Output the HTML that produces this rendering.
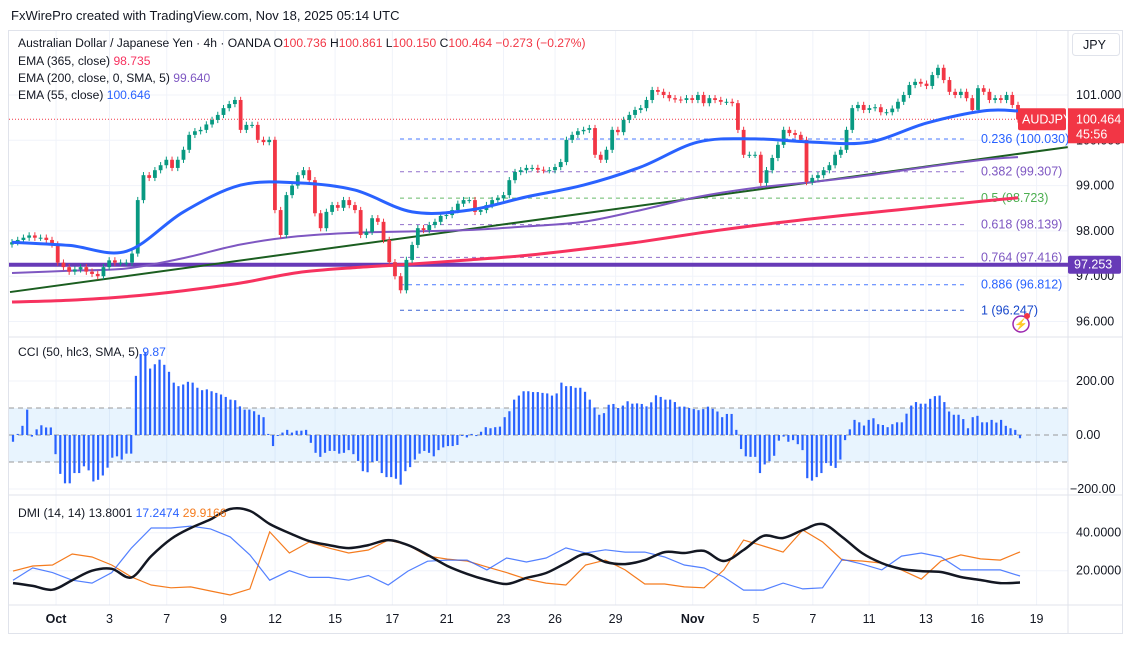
<!DOCTYPE html>
<html><head><meta charset="utf-8"><style>
body{margin:0;background:#fff;}
svg{display:block;font-family:"Liberation Sans",sans-serif;}
</style></head><body>
<svg id="c" width="1124" height="645" viewBox="0 0 1124 645">
<rect x="0" y="0" width="1124" height="645" fill="#fff"/>
<text x="11" y="20" font-size="13" fill="#131722">FxWirePro created with TradingView.com, Nov 18, 2025 05:14 UTC</text>
<rect x="8.5" y="30.5" width="1114" height="603" fill="none" stroke="#e0e3eb"/>
<g id="grid"></g>
<g id="main"></g>
<g id="cci"></g>
<g id="dmi"></g>
<g id="axes"></g>
<g font-size="12.1">
<text x="18" y="47" fill="#131722">Australian Dollar / Japanese Yen · 4h · OANDA <tspan fill="#131722">O</tspan><tspan fill="#f23645">100.736</tspan> <tspan fill="#131722">H</tspan><tspan fill="#f23645">100.861</tspan> <tspan fill="#131722">L</tspan><tspan fill="#f23645">100.150</tspan> <tspan fill="#131722">C</tspan><tspan fill="#f23645">100.464 −0.273 (−0.27%)</tspan></text>
<text x="18" y="65" fill="#131722">EMA (365, close) <tspan fill="#f7325f">98.735</tspan></text>
<text x="18" y="82" fill="#131722">EMA (200, close, 0, SMA, 5) <tspan fill="#7e57c2">99.640</tspan></text>
<text x="18" y="99" fill="#131722">EMA (55, close) <tspan fill="#2962ff">100.646</tspan></text>
</g>
<text x="18" y="356" font-size="12.1" fill="#131722">CCI (50, hlc3, SMA, 5) <tspan fill="#2962ff">9.87</tspan></text>
<text x="18" y="517" font-size="12.1" fill="#131722">DMI (14, 14) <tspan fill="#131722">13.8001</tspan> <tspan fill="#2962ff">17.2474</tspan> <tspan fill="#f57c1f">29.9166</tspan></text>
<g><rect x="1072.5" y="33.5" width="47" height="22" rx="3" fill="#fff" stroke="#e0e3eb"/><text x="1083" y="49" font-size="12.5" fill="#131722">JPY</text></g>
</svg>
<script>
const NS='http://www.w3.org/2000/svg';
function mk(tag,attrs,parent,txt){const e=document.createElementNS(NS,tag);for(const k in attrs)e.setAttribute(k,attrs[k]);if(txt!==undefined)e.textContent=txt;parent.appendChild(e);return e;}
const G=id=>document.getElementById(id);

// ---------- data ----------
const closes=[97.75,97.8,97.85,97.9,97.85,97.85,97.8,97.7,97.3,97.2,
97.1,97.15,97.2,97.1,97.05,97.0,97.2,97.35,97.3,97.3,
97.3,97.5,98.68,99.23,99.17,99.34,99.45,99.57,99.39,99.57,
99.79,100.12,100.2,100.23,100.35,100.45,100.56,100.71,100.8,100.89,
100.23,100.34,100.34,100.01,99.96,100.01,98.46,97.91,98.79,99.0,
99.23,99.34,99.12,98.39,98.06,98.42,98.57,98.51,98.68,98.57,
98.46,97.91,97.98,98.28,98.20,97.80,97.31,97.0,96.69,97.36,
97.69,98.06,98.02,98.13,98.20,98.33,98.35,98.46,98.6,98.68,
98.68,98.42,98.46,98.57,98.68,98.72,98.79,99.12,99.30,99.34,
99.39,99.39,99.35,99.34,99.34,99.41,99.52,100.01,100.12,100.2,
100.23,100.27,99.68,99.57,99.79,100.23,100.18,100.45,100.56,100.67,
100.71,100.89,101.11,101.07,101.00,100.93,100.9,100.89,100.93,100.89,
101.00,100.82,100.93,100.89,100.85,100.85,100.82,100.23,99.68,99.68,
99.68,99.06,99.34,99.61,99.90,100.23,100.16,100.12,100.01,99.08,
99.17,99.23,99.34,99.45,99.68,99.79,100.23,100.71,100.78,100.67,
100.71,100.73,100.62,100.62,100.7,100.85,101.00,101.22,101.29,101.25,
101.20,101.44,101.60,101.33,101.07,101.0,101.07,100.93,100.67,101.15,
101.07,100.89,100.93,100.89,101.00,100.78,100.46];
const emaBars=[0,10,20,30,40,50,60,70,80,90,100,110,120,130,140,150,160,170,176];
const ema55=[97.75,97.68,97.55,98.42,99.01,99.06,98.90,98.42,98.46,98.75,99.01,99.41,99.96,100.03,99.96,99.96,100.38,100.65,100.65];
const ema200=[97.07,97.12,97.17,97.40,97.70,97.88,97.96,97.99,98.02,98.10,98.20,98.46,98.75,98.95,99.08,99.23,99.41,99.57,99.63];
const ema365=[96.43,96.47,96.55,96.68,96.85,97.08,97.19,97.27,97.36,97.46,97.60,97.76,97.95,98.12,98.27,98.40,98.53,98.66,98.73];
const trendBars=[-0.35,184.7];
const trendVals=[96.65,99.85];
const hLevel=97.253;
const fibRatios=['0.236','0.382','0.5','0.618','0.764','0.886','1'];
const fibPrices=[100.030,99.307,98.723,98.139,97.416,96.812,96.247];
const fibColors=['#2962ff','#7e57c2','#4caf50','#7e57c2','#7e57c2','#2962ff','#1848cc'];
const lastClose=100.464;
const priceTicks=[101,100,99,98,97,96];
const cciVals=[-25,4,34,94,-6,21,36,28,28,-71,-144,-179,-179,-141,-141,-116,-131,-172,-166,-150,-121,-84,-79,-91,-69,-69,
219,300,306,246,262,279,260,234,194,181,187,197,194,175,166,169,162,156,150,141,131,129,106,94,94,88,75,66,4,-41,0,9,19,9,16,16,19,
-29,-66,-81,-66,-59,-59,-69,-66,-56,-71,-96,-134,-138,-100,-96,-141,-156,-156,-162,-184,-134,-119,-91,-69,-59,-66,-79,-56,-46,-41,-41,-37,
0,-9,4,-4,12,29,25,29,31,66,88,131,146,162,162,159,159,
156,154,146,154,194,181,181,175,175,160,131,102,75,81,112,115,100,109,125,116,117,115,106,121,147,141,131,131,122,105,105,100,96,92,96,105,97,87,66,78,78,19,
-52,-79,-81,-81,-141,-109,-97,-77,-21,-6,-25,-19,-34,-56,-160,-169,-156,-141,-104,-114,-122,-91,-19,
21,56,47,35,56,62,40,37,29,40,47,47,79,109,122,116,116,134,144,146,122,87,75,75,59,25,66,71,47,47,56,46,56,34,25,19,-12];
const cciTicks=[200,0,-200];
const adx=[13.5,12,10,15,20,21,16.5,27.7,36.7,42.5,47,52.5,51.5,44.6,39.8,35.6,33.5,31.9,33.5,36.1,33.5,28.3,22.5,18.3,15.1,13,16.2,18.8,24,28.8,24.6,23.5,25.6,29.8,29.3,30.4,25.1,30.9,38.3,37.2,41.4,44.6,37.7,29.3,24,20.9,19.8,19.3,16.7,15.1,13.5,13.8];
const diPlus=[15,21.5,19,15,13.5,19,32,42.5,42.5,43.5,42,37.8,28.3,15,20,16.5,16.5,15,17.5,12.5,19.8,25,25.6,25.6,20.4,26.7,24.6,26.7,32,29.3,31,29.8,29.8,27.2,23,21.4,16.7,9.8,9.8,13.5,10.4,11,26,23.5,20.4,27.7,29.3,27.2,20.4,20.4,20.4,17.2];
const diMinus=[19.8,22.5,23,28.8,27.2,23,16.7,12.5,11,11.5,9.3,7.2,10.4,40.4,29.3,35.1,31.9,29.3,30.9,36.1,33.5,27.7,26.1,25.1,22,19,15.6,13.5,12.5,23,25.6,20.4,13,13,11.5,11,20.4,36.1,33,29.8,41.4,35.2,25.6,25.1,24,20.4,15.6,25.1,28.3,26.2,25.6,29.9];
const dmiTicks=[40,20];
const timeLabels=['Oct','3','7','9','12','15','17','21','23','26','29','Nov','5','7','11','13','16','19'];
const timeBars=[9.1,20.4,32.5,44.5,55.4,68.1,80.2,91.7,103.7,114.6,127.4,143.7,157.1,169.1,181,193,203.9,216.4];

// ---------- scales ----------
const yP=p=>95+(101-p)*45.3;
const xB=i=>12+i*(1006/(closes.length-1));
const cciStep=(1020-13)/(cciVals.length-1);
const xC=i=>13+i*cciStep;
const yC=v=>435-v*0.27;
const dmiStep=(1020-13)/(adx.length-1);
const xD=i=>13+i*dmiStep;
const yD=v=>570.7-(v-20)*1.9;
const xT=b=>13+b*4.73;

// ---------- grid ----------
const grid=G('grid');
timeBars.forEach((b,i)=>{const l=mk('line',{x1:xT(b),x2:xT(b),y1:31,y2:605,stroke:'#f0f3fa'},grid);

});
priceTicks.forEach(p=>{const l=mk('line',{x1:9,x2:1068,y1:yP(p),y2:yP(p),stroke:'#f0f3fa'},grid);

});
[yC(200),yC(-200),yD(40),yD(20)].forEach(y=>{const l=mk('line',{x1:9,x2:1068,y1:y,y2:y,stroke:'#f0f3fa'},grid);

});
[337,495,605].forEach(y=>{const l=mk('line',{x1:9,x2:1123,y1:y,y2:y,stroke:'#e0e3eb'},grid);

});
const vs=mk('line',{x1:1068,x2:1068,y1:31,y2:633,stroke:'#e0e3eb'},grid);



// ---------- main pane ----------
const main=G('main');
fibPrices.forEach((p,i)=>{
 const l=mk('line',{x1:400,x2:968,y1:yP(p),y2:yP(p),stroke:fibColors[i],'stroke-width':1,'stroke-dasharray':'4,4',opacity:0.85},main);
 
 
 const t=mk('text',{x:981,y:yP(p)+4,'font-size':12.5,fill:fibColors[i]},main,fibRatios[i]+' ('+p.toFixed(3)+')');
 
 
});
const hl=mk('line',{x1:9,x2:1068,y1:yP(hLevel),y2:yP(hLevel),stroke:'#673ab7','stroke-width':4},main);


const lp=mk('line',{x1:9,x2:1068,y1:yP(lastClose),y2:yP(lastClose),stroke:'#f23645','stroke-width':1,'stroke-dasharray':'1,2'},main);


function pathOf(xs,ys){return xs.map((x,i)=>(i?'L':'M')+x.toFixed(1)+','+ys[i].toFixed(1)).join('');}
function smoothPath(xs,ys){let d='M'+xs[0].toFixed(1)+','+ys[0].toFixed(1);const n=xs.length;
 for(let i=0;i<n-1;i++){const x0=xs[Math.max(0,i-1)],y0=ys[Math.max(0,i-1)],x1=xs[i],y1=ys[i],x2=xs[i+1],y2=ys[i+1],x3=xs[Math.min(n-1,i+2)],y3=ys[Math.min(n-1,i+2)];
 const c1x=x1+(x2-x0)/6,c1y=y1+(y2-y0)/6,c2x=x2-(x3-x1)/6,c2y=y2-(y3-y1)/6;
 d+=' C'+c1x.toFixed(1)+','+c1y.toFixed(1)+' '+c2x.toFixed(1)+','+c2y.toFixed(1)+' '+x2.toFixed(1)+','+y2.toFixed(1);}return d;}
const e365=mk('path',{d:smoothPath(emaBars.map(xB),ema365.map(yP)),fill:'none',stroke:'#f7325f','stroke-width':3},main);


const tl=mk('line',{x1:xB(trendBars[0]),x2:xB(trendBars[1]),y1:yP(trendVals[0]),y2:yP(trendVals[1]),stroke:'#1b5e20','stroke-width':2},main);


const e200=mk('path',{d:smoothPath(emaBars.map(xB),ema200.map(yP)),fill:'none',stroke:'#7e57c2','stroke-width':2},main);


const cw=3.8;
closes.forEach((c,i)=>{
 const o=i?closes[i-1]:c-0.05;
 const up=c>=o;const col=up?'#089981':'#f23645';
 const hi=Math.max(o,c)+0.07,lo=Math.min(o,c)-0.07;
 const x=xB(i);
 const g=mk('g',{},main);
 
 
 mk('line',{x1:x,x2:x,y1:yP(hi),y2:yP(lo),stroke:col,'stroke-width':1},g);
 const top=yP(Math.max(o,c)),h=Math.max(1,yP(Math.min(o,c))-top);
 mk('rect',{x:x-cw/2,y:top,width:cw,height:h,fill:col},g);
});
const e55=mk('path',{d:smoothPath(emaBars.map(xB),ema55.map(yP)),fill:'none',stroke:'#2962ff','stroke-width':3},main);



// ---------- CCI ----------
const cci=G('cci');
const band=mk('rect',{x:9,y:yC(100),width:1059,height:yC(-100)-yC(100),fill:'#2196f3','fill-opacity':0.1},cci);


[100,0,-100].forEach(v=>{const l=mk('line',{x1:9,x2:1068,y1:yC(v),y2:yC(v),stroke:'#999','stroke-dasharray':'5,4'},cci);

});
cciVals.forEach((v,i)=>{
 const y1=yC(Math.max(v,0)),y2=yC(Math.min(v,0));
 const r=mk('rect',{x:xC(i)-1.1,y:y1,width:2.2,height:Math.max(1,y2-y1),fill:'#2962ff'},cci);
 
 
});

// ---------- DMI ----------
const dmi=G('dmi');
const idx=adx.map((_,i)=>xD(i));
const pm=mk('path',{d:pathOf(idx,diMinus.map(yD)),fill:'none',stroke:'#f57c1f','stroke-width':1.2},dmi);


const pp=mk('path',{d:pathOf(idx,diPlus.map(yD)),fill:'none',stroke:'#2962ff','stroke-width':1.2,opacity:0.8},dmi);


const pa=mk('path',{d:smoothPath(idx,adx.map(yD)),fill:'none',stroke:'#131722','stroke-width':2.5},dmi);



// ---------- axes ----------
const ax=G('axes');
priceTicks.forEach(p=>{const t=mk('text',{x:1076,y:yP(p)+4,'font-size':12.5,fill:'#131722'},ax,p.toFixed(3));

});
cciTicks.forEach(v=>{const t=mk('text',{x:v<0?1070:1076,y:yC(v)+4,'font-size':12.5,fill:'#131722'},ax,(v<0?'−':'')+Math.abs(v).toFixed(2));

});
dmiTicks.forEach(v=>{const t=mk('text',{x:1076,y:yD(v)+4,'font-size':12.5,fill:'#131722'},ax,v.toFixed(4));

});
timeLabels.forEach((s,i)=>{const t=mk('text',{x:xT(timeBars[i]),y:623,'font-size':12.5,fill:'#131722','text-anchor':'middle','font-weight':(s==='Oct'||s==='Nov')?'bold':'normal'},ax,s);

});
const yl=yP(lastClose);
const sym=mk('g',{},ax);


mk('rect',{x:1018,y:yl-11,width:48,height:22,rx:2,fill:'#f23645'},sym);
mk('text',{x:1022,y:yl+4,'font-size':12.5,fill:'#fff'},sym,'AUDJPY');
const pt=mk('g',{},ax);


mk('rect',{x:1068,y:yl-11,width:56,height:35,fill:'#f23645'},pt);
mk('text',{x:1076,y:yl+4,'font-size':12.5,fill:'#fff'},pt,lastClose.toFixed(3));
mk('text',{x:1076,y:yl+19,'font-size':12.5,fill:'#fff'},pt,'45:56');
const yh=yP(hLevel);
const ht=mk('g',{},ax);


mk('rect',{x:1068,y:yh-9,width:53,height:18,rx:2,fill:'#673ab7'},ht);
mk('text',{x:1074,y:yh+4,'font-size':12.5,fill:'#fff'},ht,hLevel.toFixed(3));
const bolt=mk('g',{},ax);


mk('circle',{cx:1021,cy:324,r:8,fill:'#fff',stroke:'#9c27b0','stroke-width':1.5},bolt);
mk('text',{x:1021,y:328,'font-size':11,fill:'#9c27b0','text-anchor':'middle'},bolt,'⚡');
mk('circle',{cx:1027,cy:316,r:3,fill:'#f23645'},bolt);
</script>
</body></html>
